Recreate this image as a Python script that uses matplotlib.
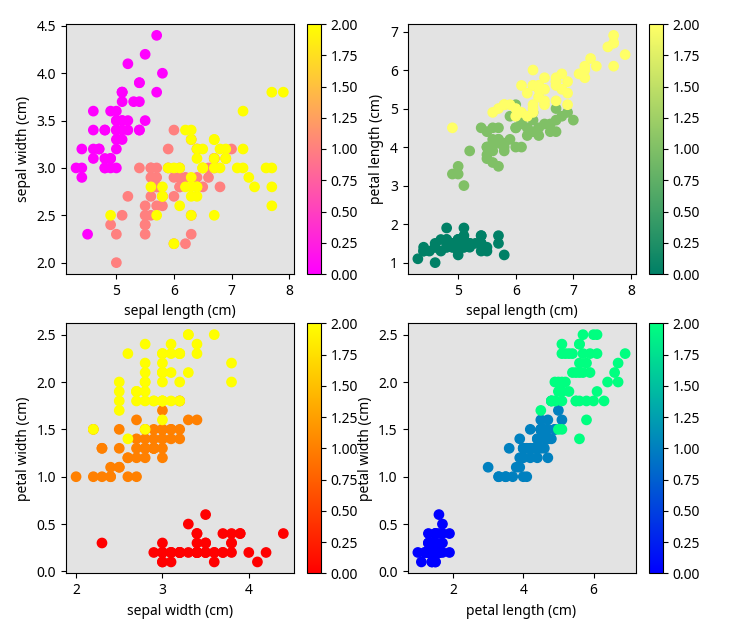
import numpy as np
import matplotlib
matplotlib.use("Agg")
import matplotlib.pyplot as plt

plt.rcParams['font.family'] = ['Noto Sans', 'DejaVu Sans']

feature_names = ["sepal length (cm)", "sepal width (cm)", "petal length (cm)", "petal width (cm)"]

sepal_length = [
    5.1, 4.9, 4.7, 4.6, 5.0, 5.4, 4.6, 5.0, 4.4, 4.9, 5.4, 4.8, 4.8, 4.3, 5.8, 5.7, 5.4, 5.1, 5.7, 5.1,
    5.4, 5.1, 4.6, 5.1, 4.8, 5.0, 5.0, 5.2, 5.2, 4.7, 4.8, 5.4, 5.2, 5.5, 4.9, 5.0, 5.5, 4.9, 4.4, 5.1,
    5.0, 4.5, 4.4, 5.0, 5.1, 4.8, 5.1, 4.6, 5.3, 5.0,
    7.0, 6.4, 6.9, 5.5, 6.5, 5.7, 6.3, 4.9, 6.6, 5.2, 5.0, 5.9, 6.0, 6.1, 5.6, 6.7, 5.6, 5.8, 6.2, 5.6,
    5.9, 6.1, 6.3, 6.1, 6.4, 6.6, 6.8, 6.7, 6.0, 5.7, 5.5, 5.5, 5.8, 6.0, 5.4, 6.0, 6.7, 6.3, 5.6, 5.5,
    5.5, 6.1, 5.8, 5.0, 5.6, 5.7, 5.7, 6.2, 5.1, 5.7,
    6.3, 5.8, 7.1, 6.3, 6.5, 7.6, 4.9, 7.3, 6.7, 7.2, 6.5, 6.4, 6.8, 5.7, 5.8, 6.4, 6.5, 7.7, 7.7, 6.0,
    6.9, 5.6, 7.7, 6.3, 6.7, 7.2, 6.2, 6.1, 6.4, 7.2, 7.4, 7.9, 6.4, 6.3, 6.1, 7.7, 6.3, 6.4, 6.0, 6.9,
    6.7, 6.9, 5.8, 6.8, 6.7, 6.7, 6.3, 6.5, 6.2, 5.9]
sepal_width = [
    3.5, 3.0, 3.2, 3.1, 3.6, 3.9, 3.4, 3.4, 2.9, 3.1, 3.7, 3.4, 3.0, 3.0, 4.0, 4.4, 3.9, 3.5, 3.8, 3.8,
    3.4, 3.7, 3.6, 3.3, 3.4, 3.0, 3.4, 3.5, 3.4, 3.2, 3.1, 3.4, 4.1, 4.2, 3.1, 3.2, 3.5, 3.6, 3.0, 3.4,
    3.5, 2.3, 3.2, 3.5, 3.8, 3.0, 3.8, 3.2, 3.7, 3.3,
    3.2, 3.2, 3.1, 2.3, 2.8, 2.8, 3.3, 2.4, 2.9, 2.7, 2.0, 3.0, 2.2, 2.9, 2.9, 3.1, 3.0, 2.7, 2.2, 2.5,
    3.2, 2.8, 2.5, 2.8, 2.9, 3.0, 2.8, 3.0, 2.9, 2.6, 2.4, 2.4, 2.7, 2.7, 3.0, 3.4, 3.1, 2.3, 3.0, 2.5,
    2.6, 3.0, 2.6, 2.3, 2.7, 3.0, 2.9, 2.9, 2.5, 2.8,
    3.3, 2.7, 3.0, 2.9, 3.0, 3.0, 2.5, 2.9, 2.5, 3.6, 3.2, 2.7, 3.0, 2.5, 2.8, 3.2, 3.0, 3.8, 2.6, 2.2,
    3.2, 2.8, 2.8, 2.7, 3.3, 3.2, 2.8, 3.0, 2.8, 3.0, 2.8, 3.8, 2.8, 2.8, 2.6, 3.0, 3.4, 3.1, 3.0, 3.1,
    3.1, 3.1, 2.7, 3.2, 3.3, 3.0, 2.5, 3.0, 3.4, 3.0]
petal_length = [
    1.4, 1.4, 1.3, 1.5, 1.4, 1.7, 1.4, 1.5, 1.4, 1.5, 1.5, 1.6, 1.4, 1.1, 1.2, 1.5, 1.3, 1.4, 1.7, 1.5,
    1.7, 1.5, 1.0, 1.7, 1.9, 1.6, 1.6, 1.5, 1.4, 1.6, 1.6, 1.5, 1.5, 1.4, 1.5, 1.2, 1.3, 1.4, 1.3, 1.5,
    1.3, 1.3, 1.3, 1.6, 1.9, 1.4, 1.6, 1.4, 1.5, 1.4,
    4.7, 4.5, 4.9, 4.0, 4.6, 4.5, 4.7, 3.3, 4.6, 3.9, 3.5, 4.2, 4.0, 4.7, 3.6, 4.4, 4.5, 4.1, 4.5, 3.9,
    4.8, 4.0, 4.9, 4.7, 4.3, 4.4, 4.8, 5.0, 4.5, 3.5, 3.8, 3.7, 3.9, 5.1, 4.5, 4.5, 4.7, 4.4, 4.1, 4.0,
    4.4, 4.6, 4.0, 3.3, 4.2, 4.2, 4.2, 4.3, 3.0, 4.1,
    6.0, 5.1, 5.9, 5.6, 5.8, 6.6, 4.5, 6.3, 5.8, 6.1, 5.1, 5.3, 5.5, 5.0, 5.1, 5.3, 5.5, 6.7, 6.9, 5.0,
    5.7, 4.9, 6.7, 4.9, 5.7, 6.0, 4.8, 4.9, 5.6, 5.8, 6.1, 6.4, 5.6, 5.1, 5.6, 6.1, 5.6, 5.5, 4.8, 5.4,
    5.6, 5.1, 5.1, 5.9, 5.7, 5.2, 5.0, 5.2, 5.4, 5.1]
petal_width = [
    0.2, 0.2, 0.2, 0.2, 0.2, 0.4, 0.3, 0.2, 0.2, 0.1, 0.2, 0.2, 0.1, 0.1, 0.2, 0.4, 0.4, 0.3, 0.3, 0.3,
    0.2, 0.4, 0.2, 0.5, 0.2, 0.2, 0.4, 0.2, 0.2, 0.2, 0.2, 0.4, 0.1, 0.2, 0.2, 0.2, 0.2, 0.1, 0.2, 0.2,
    0.3, 0.3, 0.2, 0.6, 0.4, 0.3, 0.2, 0.2, 0.2, 0.2,
    1.4, 1.5, 1.5, 1.3, 1.5, 1.3, 1.6, 1.0, 1.3, 1.4, 1.0, 1.5, 1.0, 1.4, 1.3, 1.4, 1.5, 1.0, 1.5, 1.1,
    1.8, 1.3, 1.5, 1.2, 1.3, 1.4, 1.4, 1.7, 1.5, 1.0, 1.1, 1.0, 1.2, 1.6, 1.5, 1.6, 1.5, 1.3, 1.3, 1.3,
    1.2, 1.4, 1.2, 1.0, 1.3, 1.2, 1.3, 1.3, 1.1, 1.3,
    2.5, 1.9, 2.1, 1.8, 2.2, 2.1, 1.7, 1.8, 1.8, 2.5, 2.0, 1.9, 2.1, 2.0, 2.4, 2.3, 1.8, 2.2, 2.3, 1.5,
    2.3, 2.0, 2.0, 1.8, 2.1, 1.8, 1.8, 1.8, 2.1, 1.6, 1.9, 2.0, 2.2, 1.5, 1.4, 2.3, 2.4, 1.8, 1.8, 2.1,
    2.4, 2.3, 1.9, 2.3, 2.5, 2.3, 1.9, 2.0, 2.3, 1.8]
target = [0] * 50 + [1] * 50 + [2] * 50

features = [sepal_length, sepal_width, petal_length, petal_width]
pairs = [(0, 1), (0, 2), (1, 3), (2, 3)]
cmaps = ["spring", "summer", "autumn", "winter"]

W, H = 749, 628
fig = plt.figure(figsize=(W / 100, H / 100), dpi=100)

ax_lefts = [65.7, 407.5]
cb_lefts = [307.3, 649.3]
tops = [24.0, 323.3]
aw, ah, cw = 228.0, 250.0, 13.6

for i, (xi, yi) in enumerate(pairs):
    r, c = divmod(i, 2)
    left = ax_lefts[c] / W
    bottom = (H - tops[r] - ah) / H
    ax = fig.add_axes([left, bottom, aw / W, ah / H])
    cax = fig.add_axes([cb_lefts[c] / W, bottom, cw / W, ah / H])
    ax.set_facecolor("#e3e3e3")
    sc = ax.scatter(features[xi], features[yi], c=target, cmap=cmaps[i], s=45)
    ax.set_xlabel(feature_names[xi])
    ax.set_ylabel(feature_names[yi])
    fig.colorbar(sc, cax=cax)

fig.savefig("out.png", dpi=100)
